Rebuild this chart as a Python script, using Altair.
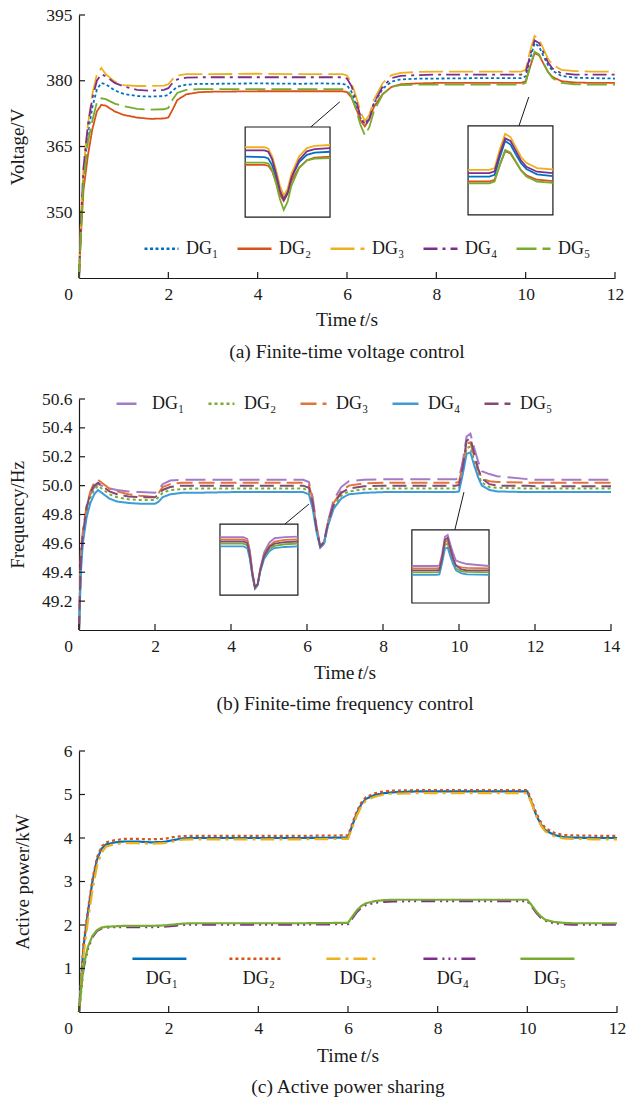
import altair as alt
import pandas as pd

FONT = "Liberation Serif"
INK = "#1a1a1a"

names = ["DG₁", "DG₂", "DG₃", "DG₄", "DG₅"]

# ---------------- (a) Finite-time voltage control ----------------
a_time = [0, 0.05, 0.1, 0.2, 0.3, 0.4, 0.5, 0.6, 0.8, 1.0,
          1.3, 1.6, 1.9, 2.0, 2.1, 2.2, 2.4, 2.7, 3.0, 4.0,
          5.0, 5.4, 5.9, 6.0, 6.1, 6.2, 6.3, 6.4, 6.5, 6.6,
          6.8, 7.0, 7.2, 7.6, 8.0, 9.0, 9.5, 9.9, 10.0, 10.1,
          10.2, 10.3, 10.4, 10.5, 10.6, 10.8, 11.1, 11.5, 12.0]
a_dg1 = [335, 348, 358, 368, 374, 378, 379.5, 379.2, 377.8, 377.0,
         376.5, 376.4, 376.5, 376.8, 377.8, 378.6, 379.1, 379.3, 379.3, 379.4,
         379.3, 379.4, 379.3, 379.0, 377.5, 374.5, 371.5, 370.2, 371.8, 374.8,
         378.2, 379.8, 380.3, 380.5, 380.5, 380.6, 380.6, 380.6, 381.0, 385.0,
         388.6, 387.8, 385.6, 383.6, 382.3, 381.1, 380.7, 380.6, 380.5]
a_dg2 = [335, 346, 355, 363, 369, 373, 374.5, 374.3, 373.0, 372.2,
         371.6, 371.3, 371.4, 371.6, 373.5, 375.6, 376.9, 377.4, 377.5, 377.6,
         377.6, 377.6, 377.6, 377.4, 376.2, 373.8, 371.0, 369.6, 371.2, 374.0,
         377.0, 378.6, 379.2, 379.4, 379.5, 379.5, 379.5, 379.5, 379.9, 383.2,
         386.3, 385.8, 383.9, 382.0, 380.9, 379.9, 379.6, 379.5, 379.5]
a_dg3 = [335, 350, 360, 370, 377, 381.5, 382.9, 381.5, 379.8, 379.0,
         378.8, 378.8, 378.9, 379.2, 380.4, 381.2, 381.5, 381.5, 381.5, 381.6,
         381.5, 381.5, 381.5, 381.2, 379.5, 376.5, 373.0, 370.8, 372.2, 375.6,
         379.5, 381.3, 381.8, 382.0, 382.1, 382.1, 382.1, 382.1, 382.5, 386.8,
         390.2, 389.5, 387.2, 385.0, 383.7, 382.5, 382.2, 382.1, 382.1]
a_dg4 = [335, 349, 360, 370, 376, 380, 381.5, 381.0, 379.5, 378.7,
         377.9, 377.7, 377.9, 378.3, 379.6, 380.3, 380.7, 380.8, 380.8, 380.8,
         380.8, 380.8, 380.8, 380.5, 378.8, 375.6, 372.0, 369.8, 371.3, 374.8,
         378.7, 380.6, 381.1, 381.3, 381.4, 381.4, 381.4, 381.4, 381.8, 385.8,
         389.2, 388.6, 386.4, 384.2, 382.8, 381.7, 381.4, 381.4, 381.4]
a_dg5 = [335, 347, 357, 366, 371, 375, 376.0, 375.8, 374.8, 374.2,
         373.6, 373.4, 373.5, 373.8, 375.8, 377.2, 377.9, 378.1, 378.1, 378.1,
         378.1, 378.1, 378.1, 377.9, 376.5, 373.5, 370.0, 367.6, 369.4, 373.0,
         376.9, 378.6, 379.0, 379.1, 379.1, 379.1, 379.1, 379.1, 379.5, 383.3,
         386.6, 386.0, 384.0, 382.0, 380.6, 379.5, 379.2, 379.1, 379.1]
a_xticks = [0, 2, 4, 6, 8, 10, 12]
a_yticks = [350, 365, 380, 395]
a_colors = ["#0072BD", "#D95319", "#EDB120", "#7E2F8E", "#77AC30"]
a_dashes = [[3, 2.5], [1, 0], [24, 6], [14, 5, 3, 5], [20, 6]]
# inset windows (zoomed data range) and inset boxes (in main-axis units)
a_inset_t = [[5.4, 7.6], [9.5, 11.1]]
a_inset_v = [[366, 386], [372, 392]]
a_box_t = [[3.72, 5.62], [8.71, 10.61]]
a_box_v = [[348.9, 369.45], [349.4, 369.7]]
a_conn_t1 = [5.19, 9.85]
a_conn_v1 = [369.45, 369.7]
a_conn_t2 = [5.84, 10.07]
a_conn_v2 = [375.2, 376.3]

# ---------------- (b) Finite-time frequency control ----------------
b_time = [0, 0.05, 0.1, 0.2, 0.3, 0.4, 0.5, 0.6, 0.8, 1.0,
          1.3, 1.6, 2.0, 2.1, 2.2, 2.4, 2.7, 3.0, 4.0, 5.0,
          5.9, 6.05, 6.15, 6.25, 6.35, 6.45, 6.55, 6.7, 6.9, 7.1,
          7.5, 8.0, 9.0, 9.9, 10.0, 10.1, 10.2, 10.3, 10.4, 10.5,
          10.6, 10.8, 11.0, 11.8, 12.0, 14.0]
b_dg1 = [49.0, 49.48, 49.65, 49.84, 49.94, 49.99, 50.01, 50.0, 49.98, 49.97,
         49.96, 49.955, 49.95, 49.97, 50.01, 50.035, 50.04, 50.04, 50.04, 50.04,
         50.04, 50.025, 49.92, 49.72, 49.58, 49.61, 49.75, 49.9, 49.99, 50.03,
         50.04, 50.045, 50.045, 50.045, 50.05, 50.17, 50.34, 50.36, 50.26, 50.17,
         50.1, 50.08, 50.065, 50.045, 50.04, 50.04]
b_dg2 = [49.0, 49.45, 49.63, 49.82, 49.92, 49.97, 50.0, 49.98, 49.94, 49.92,
         49.905, 49.9, 49.9, 49.92, 49.95, 49.97, 49.975, 49.98, 49.98, 49.98,
         49.98, 49.965, 49.86, 49.69, 49.57, 49.6, 49.73, 49.86, 49.93, 49.96,
         49.975, 49.98, 49.98, 49.98, 49.985, 50.1, 50.26, 50.27, 50.17, 50.08,
         50.02, 49.99, 49.985, 49.98, 49.98, 49.98]
b_dg3 = [49.0, 49.55, 49.68, 49.86, 49.96, 50.02, 50.04, 50.02, 49.98, 49.96,
         49.94, 49.93, 49.92, 49.95, 49.99, 50.01, 50.02, 50.02, 50.02, 50.02,
         50.02, 50.005, 49.9, 49.71, 49.57, 49.6, 49.74, 49.88, 49.96, 50.0,
         50.015, 50.02, 50.02, 50.02, 50.025, 50.14, 50.29, 50.3, 50.2, 50.11,
         50.05, 50.03, 50.025, 50.02, 50.02, 50.02]
b_dg4 = [49.0, 49.4, 49.6, 49.78, 49.88, 49.94, 49.97, 49.95, 49.91, 49.89,
         49.88, 49.875, 49.875, 49.89, 49.92, 49.94, 49.95, 49.95, 49.955, 49.955,
         49.955, 49.94, 49.84, 49.68, 49.57, 49.6, 49.72, 49.84, 49.91, 49.94,
         49.95, 49.955, 49.955, 49.955, 49.96, 50.08, 50.22, 50.23, 50.14, 50.06,
         50.0, 49.97, 49.96, 49.955, 49.955, 49.955]
b_dg5 = [49.0, 49.5, 49.66, 49.85, 49.95, 50.0, 50.02, 50.0, 49.96, 49.94,
         49.925, 49.92, 49.92, 49.94, 49.97, 49.99, 50.0, 50.0, 50.0, 50.0,
         50.0, 49.985, 49.88, 49.7, 49.58, 49.61, 49.74, 49.87, 49.95, 49.98,
         49.995, 50.0, 50.0, 50.0, 50.005, 50.13, 50.31, 50.33, 50.22, 50.12,
         50.05, 50.01, 50.0, 50.0, 49.995, 49.995]
b_xticks = [0, 2, 4, 6, 8, 10, 12, 14]
b_yticks = [49.2, 49.4, 49.6, 49.8, 50.0, 50.2, 50.4, 50.6]
b_colors = ["#A47AC6", "#77AC30", "#E2733A", "#3D9BD8", "#834A76"]
b_dashes = [[20, 7], [3, 3], [16, 6], [1, 0], [14, 6]]
b_inset_t = [[5.0, 8.0], [9.0, 11.8]]
b_inset_v = [[49.51, 50.16], [49.67, 50.41]]
b_box_t = [[3.71, 5.76], [8.76, 10.79]]
b_box_v = [[49.242, 49.734], [49.187, 49.693]]
b_conn_t1 = [5.42, 9.89]
b_conn_v1 = [49.734, 49.693]
b_conn_t2 = [6.05, 10.13]
b_conn_v2 = [49.872, 49.955]

# ---------------- (c) Active power sharing ----------------
c_time = [0, 0.1, 0.2, 0.3, 0.4, 0.5, 0.6, 0.8, 1.0, 1.3,
          1.6, 1.9, 2.1, 2.3, 2.5, 3.0, 4.0, 5.0, 6.0, 6.1,
          6.2, 6.3, 6.4, 6.6, 6.8, 7.0, 7.5, 8.0, 9.0, 10.0,
          10.1, 10.2, 10.3, 10.4, 10.6, 10.8, 11.0, 11.5, 12.0]
c_dg1 = [0, 1.5, 2.3, 3.0, 3.5, 3.75, 3.85, 3.9, 3.92, 3.92,
         3.9, 3.91, 3.95, 3.99, 4.0, 4.0, 4.0, 4.0, 4.01, 4.3,
         4.58, 4.78, 4.9, 4.99, 5.03, 5.05, 5.07, 5.07, 5.07, 5.07,
         4.8, 4.52, 4.32, 4.18, 4.07, 4.02, 4.01, 4.0, 4.0]
c_dg2 = [0, 1.55, 2.35, 3.05, 3.55, 3.8, 3.9, 3.95, 3.98, 3.98,
         3.97, 3.98, 4.02, 4.04, 4.05, 4.05, 4.05, 4.05, 4.06, 4.35,
         4.62, 4.82, 4.94, 5.03, 5.07, 5.09, 5.1, 5.1, 5.1, 5.1,
         4.85, 4.57, 4.37, 4.23, 4.12, 4.07, 4.06, 4.05, 4.05]
c_dg3 = [0, 1.3, 2.1, 2.8, 3.35, 3.65, 3.8, 3.86, 3.88, 3.88,
         3.87, 3.88, 3.92, 3.96, 3.97, 3.97, 3.97, 3.97, 3.98, 4.25,
         4.52, 4.73, 4.86, 4.95, 5.0, 5.02, 5.03, 5.03, 5.03, 5.03,
         4.78, 4.5, 4.29, 4.15, 4.04, 3.99, 3.98, 3.97, 3.97]
c_dg4 = [0, 1.0, 1.45, 1.72, 1.86, 1.92, 1.94, 1.95, 1.95, 1.95,
         1.95, 1.96, 1.98, 2.0, 2.01, 2.01, 2.01, 2.01, 2.02, 2.16,
         2.3, 2.4, 2.46, 2.51, 2.53, 2.54, 2.55, 2.55, 2.55, 2.55,
         2.42, 2.28, 2.17, 2.1, 2.04, 2.02, 2.01, 2.01, 2.01]
c_dg5 = [0, 1.05, 1.5, 1.75, 1.88, 1.94, 1.96, 1.97, 1.98, 1.98,
         1.98, 1.99, 2.01, 2.03, 2.04, 2.04, 2.04, 2.04, 2.05, 2.2,
         2.34, 2.44, 2.5, 2.55, 2.57, 2.58, 2.58, 2.58, 2.58, 2.58,
         2.45, 2.31, 2.2, 2.12, 2.07, 2.05, 2.04, 2.04, 2.04]
c_xticks = [0, 2, 4, 6, 8, 10, 12]
c_yticks = [1, 2, 3, 4, 5, 6]
c_colors = ["#0072BD", "#D95319", "#EDB120", "#7E2F8E", "#77AC30"]
c_dashes = [[1, 0], [3, 3], [14, 5, 3, 5], [14, 5, 2, 4, 2, 4, 2, 5], [1, 0]]


def long_df(time, series):
    rows = []
    for name, vals in zip(names, series):
        for t, v in zip(time, vals):
            rows.append({"t": t, "v": v, "s": name})
    return pd.DataFrame(rows)


def one():
    return pd.DataFrame({"a": [0]})


def txt(text, x, y, align="center", italic=False, size=19.5):
    return alt.Chart(one()).mark_text(
        text=text, font=FONT, fontSize=size, align=align, baseline="middle",
        fontStyle="italic" if italic else "normal", color=INK
    ).encode(x=alt.value(x), y=alt.value(y))


def panel(df, W, H, xdom, ydom, xticks, yticks, yfmt, ytitle, ytitle_x,
          colors, dashes, legend, sw, insets, conn, caption, t_off, c_off):
    xs = alt.Scale(domain=xdom, nice=False, zero=False)
    ys = alt.Scale(domain=ydom, nice=False, zero=False)
    cscale = alt.Scale(domain=names, range=colors)
    xaxis = alt.Axis(
        values=xticks, ticks=False, tickSize=0, domainColor=INK, domainWidth=1.2,
        labelFont=FONT, labelFontSize=17.5, labelColor=INK, labelPadding=7,
        labelFlush=False, labelOverlap=False, grid=False, title=None,
        labelOffset={"condition": {"test": "datum.value === 0", "value": -11}, "value": 0},
    )
    yaxis = alt.Axis(
        values=yticks, format=yfmt, ticks=False, tickSize=0, domainColor=INK,
        domainWidth=1.2, labelFont=FONT, labelFontSize=17.5, labelColor=INK,
        labelPadding=7, labelFlush=False, labelOverlap=False, grid=False,
        title=ytitle, titleFont=FONT, titleFontSize=19, titleFontWeight="normal",
        titleColor=INK, titleX=ytitle_x, titleY=H / 2, titleAngle=270,
        titleBaseline="middle", titleAlign="center",
    )
    X = lambda f: alt.X(f, scale=xs, axis=xaxis)
    Y = lambda f: alt.Y(f, scale=ys, axis=yaxis)
    lines = alt.Chart(df).mark_line(strokeWidth=sw).encode(
        x=X("t:Q"), y=Y("v:Q"),
        color=alt.Color("s:N", scale=cscale, legend=legend),
        strokeDash=alt.StrokeDash("s:N", scale=alt.Scale(domain=names, range=dashes), legend=legend),
    )
    yt = alt.Chart(pd.DataFrame({"v": yticks})).mark_rule(color=INK, strokeWidth=1.2).encode(
        y=Y("v:Q"), x=alt.value(0), x2=alt.value(6))
    xt = alt.Chart(pd.DataFrame({"t": xticks})).mark_rule(color=INK, strokeWidth=1.2).encode(
        x=X("t:Q"), y=alt.value(H), y2=alt.value(H - 6))
    layers = [lines, yt, xt]
    if conn is not None:
        cdf = pd.DataFrame({"t": conn[0], "v": conn[1], "t2": conn[2], "v2": conn[3]})
        layers.append(
            alt.Chart(cdf).mark_rule(color=INK, strokeWidth=1).encode(
                x=X("t:Q"), x2="t2:Q", y=Y("v:Q"), y2="v2:Q"))
    for (tdom, vdom, bt, bv) in insets:
        kt = (bt[1] - bt[0]) / (tdom[1] - tdom[0])
        kv = (bv[1] - bv[0]) / (vdom[1] - vdom[0])
        bdf = pd.DataFrame({"t": [bt[0]], "t2": [bt[1]], "v": [bv[0]], "v2": [bv[1]]})
        layers.append(
            alt.Chart(bdf).mark_rect(fill="white", stroke=INK, strokeWidth=1.2).encode(
                x=X("t:Q"), x2="t2:Q", y=Y("v:Q"), y2="v2:Q"))
        layers.append(
            alt.Chart(df).transform_filter(
                alt.FieldRangePredicate(field="t", range=list(tdom))
            ).transform_calculate(
                t=f"{bt[0]} + (datum.t - {tdom[0]}) * {kt}",
                v=f"{bv[0]} + (datum.v - {vdom[0]}) * {kv}",
            ).mark_line(strokeWidth=1.8).encode(
                x=X("t:Q"), y=Y("v:Q"),
                color=alt.Color("s:N", scale=cscale, legend=legend),
                detail="s:N",
            ))
    cx = W / 2
    layers += [
        txt("Time", cx - 31, H + t_off, align="left"),
        txt("t", cx + 12.5, H + t_off, align="left", italic=True),
        txt("/s", cx + 18, H + t_off, align="left"),
        txt(caption, cx, H + c_off),
    ]
    return alt.layer(*layers).properties(width=W, height=H)


# panel (a)
dfa = long_df(a_time, [a_dg1, a_dg2, a_dg3, a_dg4, a_dg5])
leg_a = alt.Legend(orient="none", legendX=64, legendY=215, direction="horizontal",
                   columns=5, title=None, symbolType="stroke", symbolSize=1156,
                   symbolStrokeWidth=2.5, labelFont=FONT, labelFontSize=18,
                   labelColor=INK, labelOffset=6, columnPadding=13, padding=0)
pa = panel(dfa, 536, 263, [0, 12], [335, 395], a_xticks, a_yticks, "d",
           "Voltage/V", -62, a_colors, a_dashes, leg_a, 1.8,
           list(zip(a_inset_t, a_inset_v, a_box_t, a_box_v)),
           [a_conn_t1, a_conn_v1, a_conn_t2, a_conn_v2],
           "(a) Finite-time voltage control", 42, 74)

# panel (b)
dfb = long_df(b_time, [b_dg1, b_dg2, b_dg3, b_dg4, b_dg5])
leg_b = alt.Legend(orient="none", legendX=36, legendY=-10, direction="horizontal",
                   columns=5, title=None, symbolType="stroke", symbolSize=676,
                   symbolStrokeWidth=2.5, labelFont=FONT, labelFontSize=18,
                   labelColor=INK, labelOffset=8, columnPadding=18, padding=0)
pb = panel(dfb, 532, 231, [0, 14], [49.0, 50.6], b_xticks, b_yticks, ".1f",
           "Frequency/Hz", -62, b_colors, b_dashes, leg_b, 2.0,
           list(zip(b_inset_t, b_inset_v, b_box_t, b_box_v)),
           [b_conn_t1, b_conn_v1, b_conn_t2, b_conn_v2],
           "(b) Finite-time frequency control", 43, 74)

# panel (c)
dfc = long_df(c_time, [c_dg1, c_dg2, c_dg3, c_dg4, c_dg5])
leg_c = alt.Legend(orient="none", legendX=26, legendY=199, direction="horizontal",
                   columns=5, title=None, symbolType="M-0.04,-0.74L1.96,-0.74",
                   symbolSize=2916, symbolStrokeWidth=2.5,
                   labelAlign="center", labelOffset=0, labelFont=FONT,
                   labelFontSize=18, labelColor=INK, columnPadding=10, padding=0)
pc = panel(dfc, 538, 261, [0, 12], [0, 6], c_xticks, c_yticks, "d",
           "Active power/kW", -57, c_colors, c_dashes, leg_c, 2.2,
           [], None, "(c) Active power sharing", 44, 75)

chart = alt.vconcat(pa, pb, pc, spacing=121, bounds="flush").resolve_scale(
    color="independent", strokeDash="independent"
).configure_view(stroke=None).properties(
    padding={"left": 8, "top": 6, "right": 0, "bottom": 0}, background="white"
)

chart.save("out.html", embed_options={"renderer": "svg", "actions": False})
